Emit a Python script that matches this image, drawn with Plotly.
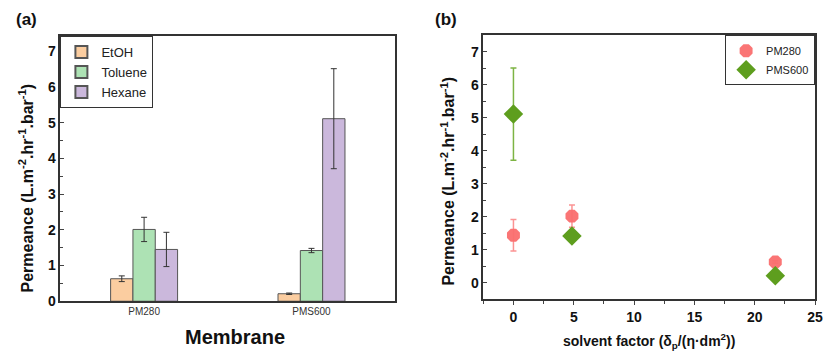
import plotly.graph_objects as go

# ---- data ----
membranes = ["PM280", "PMS600"]
solvents = ["EtOH", "Toluene", "Hexane"]
perm_etoh = [0.63, 0.21]
perm_toluene = [2.01, 1.42]
perm_hexane = [1.45, 5.11]
err_etoh = [0.08, 0.02]
err_toluene = [0.34, 0.06]
err_hexane = [0.48, 1.40]

solvent_factor = [0.0, 4.85, 21.7]
pm280_perm = [1.44, 2.02, 0.63]
pm280_err = [0.48, 0.34, 0.04]
pms600_perm = [5.11, 1.42, 0.21]
pms600_err = [1.40, 0.06, 0.02]

bar_colors = ["#FBCDA0", "#ADE2B4", "#CBB8DC"]

FONT = "Arial, Liberation Sans, sans-serif"

fig = go.Figure()

bar_vals = [perm_etoh, perm_toluene, perm_hexane]
bar_errs = [err_etoh, err_toluene, err_hexane]
for name, vals, errs, col in zip(solvents, bar_vals, bar_errs, bar_colors):
    fig.add_trace(go.Bar(
        x=membranes, y=vals, name=name, xaxis="x", yaxis="y",
        marker=dict(color=col, line=dict(color="#555555", width=1)),
        error_y=dict(type="data", array=errs, color="#333333", thickness=1, width=3),
        legend="legend",
    ))

fig.add_trace(go.Scatter(
    x=solvent_factor, y=pm280_perm, mode="markers", name="PM280",
    xaxis="x2", yaxis="y2", legend="legend2",
    marker=dict(symbol="octagon", size=14, color="rgba(250,110,110,0.95)"),
    error_y=dict(type="data", array=pm280_err, color="rgba(250,120,120,0.8)", thickness=1.5, width=3),
))
fig.add_trace(go.Scatter(
    x=solvent_factor, y=pms600_perm, mode="markers", name="PMS600",
    xaxis="x2", yaxis="y2", legend="legend2",
    marker=dict(symbol="diamond", size=15, color="#5E9E1E"),
    error_y=dict(type="data", array=pms600_err, color="#7DB443", thickness=1.5, width=3),
))

axis_common = dict(showline=True, linecolor="#333333", linewidth=1.5, mirror=True,
                   showgrid=False, zeroline=False)
tickfont_bold = dict(family=FONT, size=14, color="#111111", weight="bold")

W, H = 832, 364
def px(xp, yp):
    return xp / W, 1 - yp / H

anns = []
for text, xp, yp, size, angle in [
    ("(a)", 27, 20, 17, 0),
    ("(b)", 450, 20, 17, 0),
    ("Permeance (L.m<sup>-2</sup>.hr<sup>-1</sup>.bar<sup>-1</sup>)", 26, 192, 16, -90),
    ("Membrane", 237, 345, 20, 0),
    ("Permeance (L.m<sup>-2</sup>.hr<sup>-1</sup>.bar<sup>-1</sup>)", 452, 185, 16, -90),
    ("solvent factor (δ<sub>p</sub>/(η·dm<sup>2</sup>))", 655, 349, 14, 0),
]:
    x, y = px(xp, yp)
    anns.append(dict(text=text, x=x, y=y, xref="paper", yref="paper",
                     xanchor="center", yanchor="middle", showarrow=False,
                     textangle=angle,
                     font=dict(family=FONT, size=size, color="#111111", weight="bold")))

fig.update_layout(
    width=W, height=H,
    margin=dict(l=0, r=0, t=0, b=0),
    paper_bgcolor="white", plot_bgcolor="white",
    barmode="group", bargap=0.6, bargroupgap=0,
    showlegend=True,
    xaxis=dict(domain=[0.0733, 0.4796], anchor="y", type="category",
               range=[-0.5, 1.5], ticks="", tickfont=dict(family=FONT, size=10, color="#333333"),
               **axis_common),
    yaxis=dict(domain=[0.1538, 0.8984], anchor="x", range=[0, 7.42],
               dtick=1, ticks="inside", ticklen=4, tickfont=tickfont_bold,
               minor=dict(dtick=0.5, ticks="inside", ticklen=3),
               **axis_common),
    xaxis2=dict(domain=[0.5865, 0.9892], anchor="y2", range=[-2.5, 25],
                dtick=5, ticks="outside", ticklen=4, tickfont=tickfont_bold,
                minor=dict(dtick=2.5, ticks="outside", ticklen=3),
                **axis_common),
    yaxis2=dict(domain=[0.1593, 0.9011], anchor="x2", range=[-0.5, 7.5],
                dtick=1, ticks="inside", ticklen=4, tickfont=tickfont_bold,
                minor=dict(dtick=0.5, ticks="inside", ticklen=3),
                **axis_common),
    legend=dict(x=0.0733, y=0.8984, xanchor="left", yanchor="top",
                bgcolor="white", bordercolor="#333333", borderwidth=1,
                font=dict(family=FONT, size=13, color="#222222"),
                tracegroupgap=0, itemsizing="constant", itemwidth=30),
    legend2=dict(x=0.9892, y=0.9011, xanchor="right", yanchor="top",
                 bgcolor="white", bordercolor="#333333", borderwidth=1,
                 font=dict(family=FONT, size=11, color="#222222"),
                 tracegroupgap=0),
    annotations=anns,
)

fig.write_html(
    "out.html",
    config={"displayModeBar": False},
    post_script="document.body.style.margin='0';document.body.style.overflow='hidden';",
)
